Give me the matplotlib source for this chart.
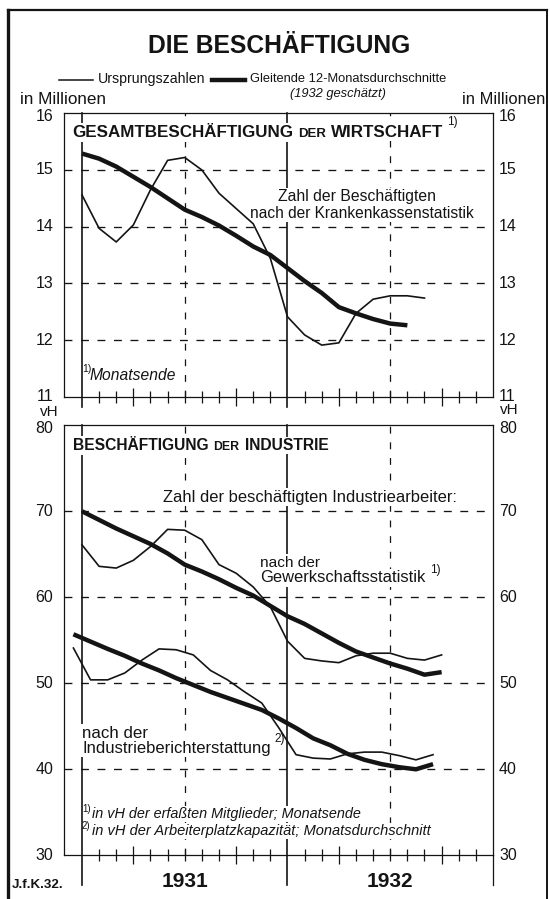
import matplotlib
matplotlib.use("Agg")
import matplotlib.pyplot as plt
from matplotlib.lines import Line2D
from matplotlib.transforms import offset_copy

# ---- data ----
# month index: 0 = end of Dec 1930, 12 = end of Dec 1931, 24 = end of Dec 1932
kk_months = list(range(0, 21))
kk_raw = [14.56, 13.97, 13.73, 14.03, 14.65, 15.17, 15.22, 15.0, 14.59, 14.32, 14.05,
          13.44, 12.41, 12.09, 11.91, 11.95, 12.47, 12.72, 12.78, 12.78, 12.74]
kk_avg_months = list(range(0, 20))
kk_avg = [15.29, 15.2, 15.06, 14.88, 14.7, 14.5, 14.3, 14.17, 14.02, 13.84, 13.65,
          13.5, 13.27, 13.04, 12.83, 12.58, 12.47, 12.37, 12.29, 12.26]

gew_months = list(range(0, 22))
gew_raw = [66.1, 63.6, 63.4, 64.3, 65.9, 67.9, 67.8, 66.7, 63.8, 62.8, 61.2,
           58.9, 54.9, 52.9, 52.6, 52.4, 53.2, 53.5, 53.5, 52.9, 52.7, 53.3]
gew_avg = [70.0, 69.0, 68.0, 67.1, 66.2, 65.1, 63.8, 63.0, 62.1, 61.1, 60.2,
           59.0, 57.8, 56.9, 55.8, 54.7, 53.7, 53.0, 52.3, 51.7, 51.0, 51.3]

# monthly averages, plotted mid-month
ind_months = [m - 0.5 for m in range(0, 22)]
ind_raw = [54.1, 50.4, 50.4, 51.2, 52.7, 54.0, 53.9, 53.3, 51.5, 50.4, 49.0,
           47.7, 44.8, 41.7, 41.3, 41.2, 41.8, 42.0, 42.0, 41.6, 41.1, 41.7]
ind_avg = [55.7, 54.85, 54.0, 53.2, 52.3, 51.5, 50.6, 49.8, 49.0, 48.3, 47.6,
           46.9, 45.9, 44.8, 43.6, 42.8, 41.8, 41.1, 40.6, 40.25, 40.0, 40.6]

years = ['1931', '1932']
year_mid = [6, 18]
year_start = [0, 12]

top_ticks = [11, 12, 13, 14, 15, 16]
bot_ticks = [30, 40, 50, 60, 70, 80]

SANS = ['Liberation Sans', 'DejaVu Sans']
plt.rcParams['font.family'] = SANS

W, H = 550, 899
fig = plt.figure(figsize=(5.5, 8.99), dpi=100)
fig.patch.set_facecolor('white')
INK = '#141414'
WHITE = dict(facecolor='white', edgecolor='none', pad=1.0)
renderer = fig.canvas.get_renderer()


def fx(x):
    return x / W


def fy(y):
    return 1 - y / H


def txt(x, y, s, width=None, parent=None, zorder=2, **kw):
    # text at a pixel position; with width given the size is scaled to that width
    kw.setdefault('color', INK)
    kw.setdefault('va', 'center')
    kw.setdefault('fontsize', 10)
    parent = parent or fig
    t = parent.text(fx(x), fy(y), s, transform=fig.transFigure, zorder=zorder, **kw)
    if width:
        w = t.get_window_extent(renderer).width
        t.set_fontsize(kw['fontsize'] * width / w)
    return t


def right_end(t):
    return t.get_window_extent(renderer).x1


def setup(ax, ticks, below_px, px_per_unit):
    lo, hi = ticks[0], ticks[-1]
    ax.set_xlim(-1.05, 24)
    ax.set_ylim(lo, hi)
    ax.set_yticks([])
    for s in ax.spines.values():
        s.set_linewidth(0.9)
        s.set_color(INK)
    for v in ticks[1:-1]:
        ax.axhline(v, color=INK, lw=0.95, dashes=(6, 6.5), zorder=1)
    for m in year_mid:
        ax.axvline(m, color=INK, lw=0.9, dashes=(5.5, 7), zorder=1)
    ext = below_px / px_per_unit
    for m in year_start:
        ax.plot([m, m], [lo - ext, hi], color=INK, lw=1.2, clip_on=False, zorder=1)
    minor = [m for m in range(1, 24) if m not in (3, 9, 12, 15, 21)]
    ax.set_xticks([3, 9, 15, 21])
    ax.set_xticks(minor, minor=True)
    ax.tick_params(axis='x', which='major', direction='inout', length=13,
                   width=0.9, labelbottom=False, color=INK)
    ax.tick_params(axis='x', which='minor', direction='inout', length=9,
                   width=0.9, color=INK)
    base = ax.get_yaxis_transform()
    for v in ticks:
        # the top value sits a little below the frame in the original
        tr = offset_copy(base, fig=fig, y=-3 if v == hi else 0, units='dots')
        ax.text(-0.025, v, str(v), transform=tr, ha='right',
                va='center', fontsize=11.5, color=INK)
        ax.text(1.014, v, str(v), transform=tr, ha='left',
                va='center', fontsize=11.5, color=INK)


ax1 = fig.add_axes([fx(64), fy(396.7), (493 - 64) / W, (396.7 - 113.3) / H])
ax2 = fig.add_axes([fx(64), fy(855.3), (493 - 64) / W, (855.3 - 425.3) / H])
setup(ax1, top_ticks, 10, 56.7)
setup(ax2, bot_ticks, 30, 8.6)
# right frame line of the lower panel runs on below the axis
ax2.plot([24, 24], [30 - 30 / 8.6, 30], color=INK, lw=0.9, clip_on=False)

ax1.plot(kk_months, kk_raw, color=INK, lw=1.2, zorder=3)
ax1.plot(kk_avg_months, kk_avg, color=INK, lw=3.2, zorder=3, solid_capstyle='butt')
ax2.plot(gew_months, gew_raw, color=INK, lw=1.2, zorder=3)
ax2.plot(gew_months, gew_avg, color=INK, lw=3.2, zorder=3, solid_capstyle='butt')
ax2.plot(ind_months, ind_raw, color=INK, lw=1.2, zorder=3)
ax2.plot(ind_months, ind_avg, color=INK, lw=3.2, zorder=3, solid_capstyle='butt')

for m, yr in zip(year_mid, years):
    ax2.text(m, -0.062, yr, transform=ax2.get_xaxis_transform(), ha='center',
             va='center', fontsize=15, fontweight='bold', color=INK)

# title and legend
txt(148, 46, 'DIE BESCHÄFTIGUNG', width=262, fontweight='bold')
fig.add_artist(Line2D([fx(59), fx(93)], [fy(80), fy(80)], color=INK, lw=1.1))
txt(98, 79, 'Ursprungszahlen', width=107)
fig.add_artist(Line2D([fx(212), fx(245)], [fy(80), fy(80)], color=INK, lw=3.2))
txt(250, 79, 'Gleitende 12-Monatsdurchschnitte', width=197)
txt(290, 94, '(1932 geschätzt)', width=96, style='italic')
txt(20, 100, 'in Millionen', width=86)
txt(545, 99, 'in Millionen', width=83, ha='right')
txt(40, 412, 'vH', fontsize=11)
txt(500, 410, 'vH', fontsize=11)


def title(ax, x, y, word1, word2, width1, gap):
    # bold caps title with the small-caps "DER" between the two words
    t = txt(x, y, word1, width=width1, parent=ax, zorder=4, fontweight='bold',
            va='baseline', bbox=WHITE)
    size = t.get_fontsize()
    t = txt(right_end(t) + gap, y, 'DER', parent=ax, zorder=4, fontweight='bold',
            va='baseline', bbox=WHITE, fontsize=size * 0.78)
    t = txt(right_end(t) + gap, y, word2, parent=ax, zorder=4, fontweight='bold',
            va='baseline', bbox=WHITE, fontsize=size)
    return right_end(t)


x = title(ax1, 72, 137, 'GESAMTBESCHÄFTIGUNG', 'WIRTSCHAFT', 220, 5)
txt(x + 4, 122, '1)', fontsize=8.5, parent=ax1, zorder=5)
title(ax2, 73, 450, 'BESCHÄFTIGUNG', 'INDUSTRIE', 136, 5)

# annotations (white ground hides the grid lines, the curves stay on top)
txt(278, 197, 'Zahl der Beschäftigten', width=159, parent=ax1, bbox=WHITE)
txt(250, 213, 'nach der Krankenkassenstatistik', width=224, parent=ax1, bbox=WHITE)
txt(82, 369, '1)', fontsize=7.5, parent=ax1, zorder=5)
txt(90, 376, 'Monatsende', width=86, style='italic', parent=ax1, bbox=WHITE)

txt(163, 497, 'Zahl der beschäftigten Industriearbeiter:', width=294, parent=ax2,
    bbox=WHITE)
txt(260, 563, 'nach der', width=60, parent=ax2, bbox=WHITE)
t = txt(260, 578, 'Gewerkschaftsstatistik', width=165, parent=ax2, bbox=WHITE)
txt(right_end(t) + 5, 570, '1)', fontsize=8.5, parent=ax2, zorder=5)
txt(82, 733, 'nach der', width=66, parent=ax2, bbox=WHITE)
t = txt(82, 748, 'Industrieberichterstattung', width=188, parent=ax2, bbox=WHITE)
txt(right_end(t) + 4, 739, '2)', fontsize=8.5, parent=ax2, zorder=5)

txt(82, 809, '1)', fontsize=7, parent=ax2, zorder=5)
txt(92, 814, 'in vH der erfaßten Mitglieder; Monatsende', width=270,
    style='italic', parent=ax2, bbox=WHITE)
txt(82, 826, '2)', fontsize=7, parent=ax2, zorder=5)
txt(92, 831, 'in vH der Arbeiterplatzkapazität; Monatsdurchschnitt', width=339,
    style='italic', parent=ax2, bbox=WHITE)
txt(12, 885, 'J.f.K.32.', width=52, fontweight='bold')

# outer frame
fig.add_artist(Line2D([fx(8), fx(8)], [fy(10), 0], color=INK, lw=2.4))
fig.add_artist(Line2D([fx(8), fx(547)], [fy(10), fy(10)], color=INK, lw=1.6))
fig.add_artist(Line2D([fx(547), fx(547)], [fy(10), 0], color=INK, lw=1.4))

fig.savefig('out.png', dpi=100, facecolor='white')
